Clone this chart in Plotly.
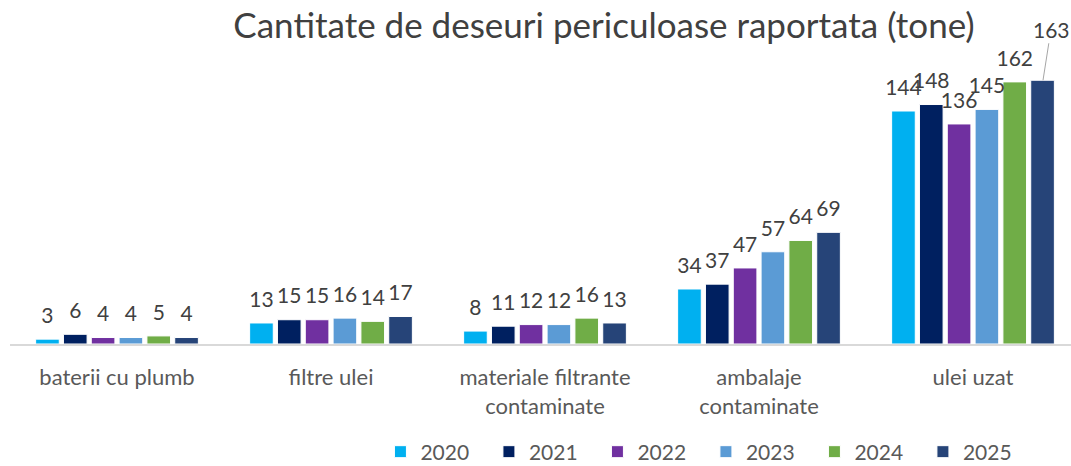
import plotly.graph_objects as go

categories = ["baterii cu plumb", "filtre ulei", "materiale filtrante<br>contaminate",
              "ambalaje<br>contaminate", "ulei uzat"]
years = ["2020", "2021", "2022", "2023", "2024", "2025"]
values = {
    "2020": [3, 13, 8, 34, 144],
    "2021": [6, 15, 11, 37, 148],
    "2022": [4, 15, 12, 47, 136],
    "2023": [4, 16, 12, 57, 145],
    "2024": [5, 14, 16, 64, 162],
    "2025": [4, 17, 13, 69, 163],
}
colors = ["#00B0F0", "#002060", "#7030A0", "#5B9BD5", "#70AD47", "#264478"]
title_text = "Cantitate de deseuri periculoase raportata (tone)"

FONT = "Lato, Calibri, Carlito, sans-serif"

fig = go.Figure()
for i, y in enumerate(years):
    fig.add_trace(go.Bar(
        x=categories, y=values[y], name=y,
        marker=dict(color=colors[i], line=dict(color="white", width=1)),
        hoverinfo="x+y+name",
    ))

# data labels, grouped like the bars
for i, y in enumerate(years):
    vals = values[y]
    texts = [str(v) for v in vals]
    if y == "2025":
        texts[-1] = ""  # placed with leader line below
    fig.add_trace(go.Scatter(
        x=categories, y=vals, mode="markers+text", text=texts,
        textposition="top center", showlegend=False, hoverinfo="skip",
        marker=dict(size=16, color="rgba(0,0,0,0)"),
        textfont=dict(size=21, color="#404040", family=FONT),
        cliponaxis=False,
    ))

# leader-line label for the last bar
fig.add_annotation(x=categories[-1], y=values["2025"][-1], xref="x", yref="y",
                   text=str(values["2025"][-1]), showarrow=True, arrowhead=0,
                   arrowwidth=1, arrowcolor="#A6A6A6", ax=8, ay=-51,
                   xshift=70,
                   font=dict(size=21, color="#404040", family=FONT))

fig.update_layout(
    width=1080, height=466,
    margin=dict(l=10, r=0, t=50, b=122),
    paper_bgcolor="white", plot_bgcolor="white",
    barmode="group", bargap=0.22, bargroupgap=0.15,
    scattermode="group", scattergap=0.22,
    title=dict(text=title_text, x=0.5593, xanchor="center", y=0.944, yanchor="middle",
               font=dict(size=35, color="#404040", family=FONT)),
    showlegend=True,
    legend=dict(orientation="h", x=0.3462, xanchor="left",
                yref="container", y=0.03, yanchor="middle",
                font=dict(size=21, color="#595959", family=FONT),
                entrywidth=63.5, entrywidthmode="pixels", itemwidth=30,
                bgcolor="rgba(0,0,0,0)"),
    font=dict(family=FONT),
)
fig.update_xaxes(showline=True, linecolor="#D9D9D9", linewidth=2, ticks="",
                 tickfont=dict(size=22, color="#595959", family=FONT),
                 ticklabelstandoff=13, showgrid=False)
fig.update_yaxes(range=[0, 181.7], visible=False, showgrid=False)

fig.write_html("out.html", config={"displayModeBar": False},
               post_script="document.body.style.margin='0px';"
                           "document.body.style.overflow='hidden';")
